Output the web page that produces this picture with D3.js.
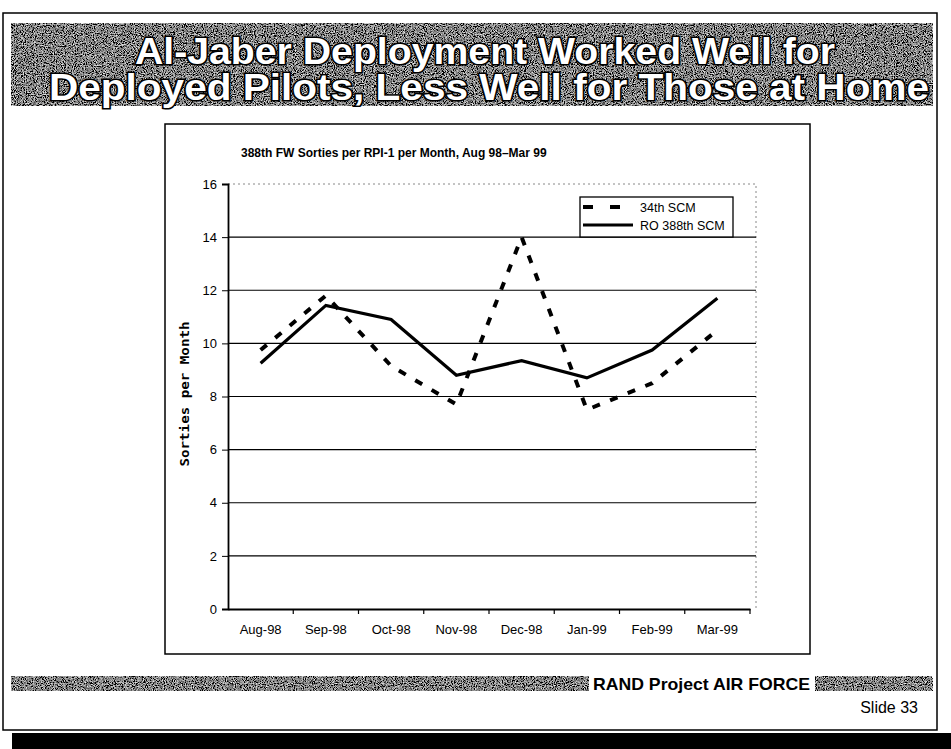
<!DOCTYPE html>
<html>
<head>
<meta charset="utf-8">
<script src="https://cdn.jsdelivr.net/npm/d3@7"></script>
<style>
  body { margin: 0; background: #fff; }
  svg { display: block; font-family: "Liberation Sans", Arial, sans-serif; }
</style>
</head>
<body>
<div class="slide"></div>
<script>
// DATA -----------------------------------

var months = ["Aug-98", "Sep-98", "Oct-98", "Nov-98", "Dec-98", "Jan-99", "Feb-99", "Mar-99"];
var scm34 = [9.75, 11.8, 9.15, 7.7, 14.0, 7.5, 8.5, 10.5];
var ro388 = [9.25, 11.43, 10.9, 8.8, 9.35, 8.7, 9.75, 11.7];
var yTicks = [0, 2, 4, 6, 8, 10, 12, 14, 16];
var seriesNames = ["34th SCM", "RO 388th SCM"];

// SET UP SVG ELEMENT -----------------------------------

var svgWidth = 951;
var svgHeight = 749;

var svg = d3.select(".slide")
  .append("svg")
  .attr("width", svgWidth)
  .attr("height", svgHeight);

// speckled gray texture, like the scanned slide bands
var defs = svg.append("defs");
var grain = defs.append("filter")
  .attr("id", "grain")
  .attr("x", 0).attr("y", 0).attr("width", "100%").attr("height", "100%");
grain.append("feTurbulence")
  .attr("type", "fractalNoise")
  .attr("baseFrequency", 0.9)
  .attr("numOctaves", 2)
  .attr("seed", 7);
grain.append("feColorMatrix")
  .attr("type", "matrix")
  .attr("values", "0.33 0.33 0.33 0 0  0.33 0.33 0.33 0 0  0.33 0.33 0.33 0 0  0 0 0 0 1");
var ct = grain.append("feComponentTransfer");
["feFuncR", "feFuncG", "feFuncB"].forEach(function(f) {
  ct.append(f).attr("type", "linear").attr("slope", 3.6).attr("intercept", -1.55);
});

// slide frame
svg.append("rect")
  .attr("x", 3).attr("y", 13)
  .attr("width", 934).attr("height", 717)
  .attr("fill", "none")
  .attr("stroke", "#000")
  .attr("stroke-width", 1.5);

// black strip at the bottom of the scan
svg.append("rect")
  .attr("x", 12).attr("y", 733)
  .attr("width", 939).attr("height", 16)
  .attr("fill", "#000");

// TITLE BAND -----------------------------------

svg.append("rect")
  .attr("x", 11).attr("y", 23)
  .attr("width", 922).attr("height", 83)
  .attr("filter", "url(#grain)");

var titleLines = [
  { text: "Al-Jaber Deployment Worked Well for", x: 485, y: 64, len: 700 },
  { text: "Deployed Pilots, Less Well for Those at Home", x: 489, y: 100, len: 880 }
];

svg.selectAll(".title-line")
  .data(titleLines)
  .enter()
  .append("text")
  .attr("class", "title-line")
  .attr("x", d => d.x)
  .attr("y", d => d.y)
  .attr("text-anchor", "middle")
  .attr("textLength", d => d.len)
  .attr("lengthAdjust", "spacingAndGlyphs")
  .attr("font-family", "'Liberation Sans Narrow', 'Liberation Sans', Arial, sans-serif")
  .attr("font-weight", "bold")
  .attr("font-size", 37)
  .attr("fill", "#fff")
  .attr("stroke", "#000")
  .attr("stroke-width", 3.2)
  .attr("paint-order", "stroke")
  .text(d => d.text);

// CHART BOX -----------------------------------

svg.append("rect")
  .attr("x", 165).attr("y", 124)
  .attr("width", 645).attr("height", 530)
  .attr("fill", "#fff")
  .attr("stroke", "#000")
  .attr("stroke-width", 1.5);

svg.append("text")
  .attr("x", 241)
  .attr("y", 157)
  .attr("font-size", 12)
  .attr("font-weight", "bold")
  .text("388th FW Sorties per RPI-1 per Month, Aug 98\u2013Mar 99");

// plot area
var plot = { left: 228, right: 750, top: 184, bottom: 609 };

var xBand = d3.scaleBand()
  .domain(months)
  .range([plot.left, plot.right]);

var yScale = d3.scaleLinear()
  .domain([0, 16])
  .range([plot.bottom, plot.top]);

var chartGroup = svg.append("g");

// dotted plot border on top and right
chartGroup.append("path")
  .attr("d", `M${plot.left},${plot.top}H${plot.right + 6}V${plot.bottom}`)
  .attr("fill", "none")
  .attr("stroke", "#888")
  .attr("stroke-width", 1)
  .attr("stroke-dasharray", "2,3");

// gridlines
chartGroup.selectAll(".grid")
  .data(yTicks.filter(t => t > 0 && t < 16))
  .enter()
  .append("line")
  .attr("class", "grid")
  .attr("x1", plot.left)
  .attr("x2", plot.right + 6)
  .attr("y1", d => yScale(d))
  .attr("y2", d => yScale(d))
  .attr("stroke", "#000")
  .attr("stroke-width", 1.2);

// y axis
var leftAxis = d3.axisLeft(yScale)
  .tickValues(yTicks)
  .tickSize(6)
  .tickPadding(5);

var yAxisG = chartGroup.append("g")
  .attr("transform", `translate(${plot.left}, 0)`)
  .call(leftAxis);
yAxisG.select(".domain").attr("stroke-width", 1.8);
yAxisG.selectAll("text")
  .attr("font-size", 13)
  .attr("font-family", "'Liberation Sans', Arial, sans-serif");

// x axis: labels under the points, ticks between categories
var bottomAxis = d3.axisBottom(xBand)
  .tickSize(0)
  .tickPadding(16);

var xAxisG = chartGroup.append("g")
  .attr("transform", `translate(0, ${plot.bottom})`)
  .call(bottomAxis);
xAxisG.select(".domain").attr("stroke-width", 1.8);
xAxisG.selectAll("text")
  .attr("font-size", 13)
  .attr("font-family", "'Liberation Sans', Arial, sans-serif");

chartGroup.selectAll(".xtick")
  .data(months.map(m => xBand(m)).concat([plot.right]).slice(1))
  .enter()
  .append("line")
  .attr("class", "xtick")
  .attr("x1", d => d).attr("x2", d => d)
  .attr("y1", plot.bottom).attr("y2", plot.bottom + 5)
  .attr("stroke", "#000")
  .attr("stroke-width", 1.2);

// y axis title (wide bold face, as in the scan)
svg.append("text")
  .attr("transform", `translate(189, 394) rotate(-90)`)
  .attr("text-anchor", "middle")
  .attr("font-family", "'DejaVu Sans Mono', monospace")
  .attr("font-size", 13)
  .attr("font-weight", "bold")
  .attr("textLength", 145)
  .attr("lengthAdjust", "spacingAndGlyphs")
  .text("Sorties per Month");

// LINES -----------------------------------

var line = d3.line()
  .x((d, i) => xBand(months[i]) + xBand.bandwidth() / 2)
  .y(d => yScale(d));

chartGroup.append("path")
  .datum(ro388)
  .attr("d", line)
  .attr("fill", "none")
  .attr("stroke", "#000")
  .attr("stroke-width", 3.2)
  .attr("stroke-linejoin", "miter");

chartGroup.append("path")
  .datum(scm34)
  .attr("d", line)
  .attr("fill", "none")
  .attr("stroke", "#000")
  .attr("stroke-width", 4)
  .attr("stroke-dasharray", "8,11");

// LEGEND -----------------------------------

var legend = svg.append("g")
  .attr("transform", "translate(580, 197)");

legend.append("rect")
  .attr("width", 153)
  .attr("height", 40)
  .attr("fill", "#fff")
  .attr("stroke", "#000")
  .attr("stroke-width", 1.3);

var legendRows = legend.selectAll(".lrow")
  .data(seriesNames)
  .enter()
  .append("g")
  .attr("class", "lrow")
  .attr("transform", (d, i) => `translate(0, ${10 + i * 18})`);

legendRows.append("line")
  .attr("x1", 3).attr("x2", 53)
  .attr("y1", 0).attr("y2", 0)
  .attr("stroke", "#000")
  .attr("stroke-width", (d, i) => i === 0 ? 4 : 3.2)
  .attr("stroke-dasharray", (d, i) => i === 0 ? "10,17" : null);

legendRows.append("text")
  .attr("x", 60)
  .attr("y", 4.5)
  .attr("font-size", 12.5)
  .text(d => d);

// FOOTER -----------------------------------

svg.append("rect")
  .attr("x", 11).attr("y", 676)
  .attr("width", 578).attr("height", 15)
  .attr("filter", "url(#grain)");

svg.append("rect")
  .attr("x", 815).attr("y", 676)
  .attr("width", 118).attr("height", 15)
  .attr("filter", "url(#grain)");

svg.append("text")
  .attr("x", 593)
  .attr("y", 690)
  .attr("font-size", 17)
  .attr("font-weight", "bold")
  .attr("textLength", 217)
  .attr("lengthAdjust", "spacingAndGlyphs")
  .text("RAND Project AIR FORCE");

svg.append("text")
  .attr("x", 918)
  .attr("y", 713)
  .attr("text-anchor", "end")
  .attr("font-size", 16)
  .text("Slide 33");
</script>
</body>
</html>
